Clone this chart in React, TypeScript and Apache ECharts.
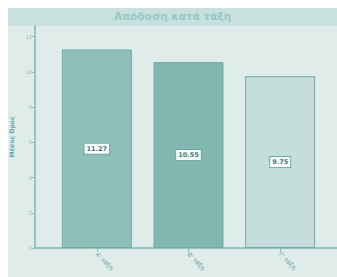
import React, { useEffect, useRef } from "react";
import * as echarts from "echarts";

const categories = ["Α' τάξη", "Β' τάξη", "Γ' τάξη"];
const values = [11.27, 10.55, 9.75];
const barColors = ["#8fbfba", "#82b6b1", "#c6dedb"];
const yTicks = [0, 2, 4, 6, 8, 10, 12];
const titleText = "Απόδοση κατά τάξη";
const yName = "Μέσος Όρος";

export default function App() {
  const ref = useRef<HTMLDivElement>(null);
  useEffect(() => {
    if (!ref.current) return;
    const chart = echarts.init(ref.current, null, { renderer: "svg" });
    chart.setOption({
      animation: false,
      backgroundColor: "#dfecea",
      textStyle: { fontFamily: "DejaVu Sans" },
      graphic: [
        {
          type: "rect",
          shape: { x: 0, y: 0, width: 329, height: 18 },
          style: { fill: "#c9e1de" },
          z: -1,
        },
      ],
      title: {
        text: titleText,
        left: "center",
        top: 2,
        padding: 0,
        textStyle: { fontSize: 10.5, fontWeight: "bold", color: "#95c9c3" },
      },
      grid: [
        { left: 43, right: 11, top: 18, bottom: 29, outerBoundsMode: "none", containLabel: false },
        { left: 27, right: 0, top: 18, bottom: 29, outerBoundsMode: "none", containLabel: false },
      ],
      xAxis: [
        {
          type: "category",
          gridIndex: 0,
          data: categories,
          axisLine: { show: false },
          axisTick: { show: true, alignWithLabel: true, length: 4, lineStyle: { color: "#7db6b0", width: 1 } },
          axisLabel: { rotate: -45, fontSize: 6, color: "#5e9f99", margin: 5 },
        },
        {
          type: "value",
          gridIndex: 1,
          min: 0,
          max: 1,
          axisLine: { show: true, lineStyle: { color: "#7db6b0", width: 1.5 } },
          axisTick: { show: false },
          axisLabel: { show: false },
          splitLine: { show: false },
        },
      ],
      yAxis: [
        {
          type: "value",
          gridIndex: 0,
          min: 0,
          max: 12.6,
          offset: 16,
          name: yName,
          nameLocation: "middle",
          nameGap: 15,
          nameTextStyle: { fontSize: 6, fontWeight: "bold", color: "#5aaba3" },
          axisLine: { show: true, lineStyle: { color: "#7db6b0", width: 1.5 } },
          axisTick: { show: true, length: 3, customValues: yTicks, lineStyle: { color: "#8fc0bb" } },
          axisLabel: { fontSize: 5, color: "#8ab8b3", margin: 3, customValues: yTicks },
          splitLine: { show: false },
        },
        {
          type: "value",
          gridIndex: 1,
          show: false,
        },
      ],
      series: [
        {
          type: "bar",
          xAxisIndex: 0,
          yAxisIndex: 0,
          barWidth: 70,
          data: values.map((v, i) => ({
            value: v,
            itemStyle: { color: barColors[i], borderColor: "#70aba5", borderWidth: 1 },
          })),
          label: {
            show: true,
            position: "inside",
            formatter: (p: any) => p.value.toFixed(2),
            backgroundColor: "#ffffff",
            borderColor: "#6aaaa3",
            borderWidth: 1,
            padding: [2, 2, 1, 2],
            fontSize: 6.5,
            fontWeight: "bold",
            color: "#3d7a74",
          },
        },
      ],
    });
    return () => chart.dispose();
  }, []);
  return (
    <div
      ref={ref}
      style={{ position: "fixed", left: 8, top: 8, width: 329, height: 269 }}
    />
  );
}
